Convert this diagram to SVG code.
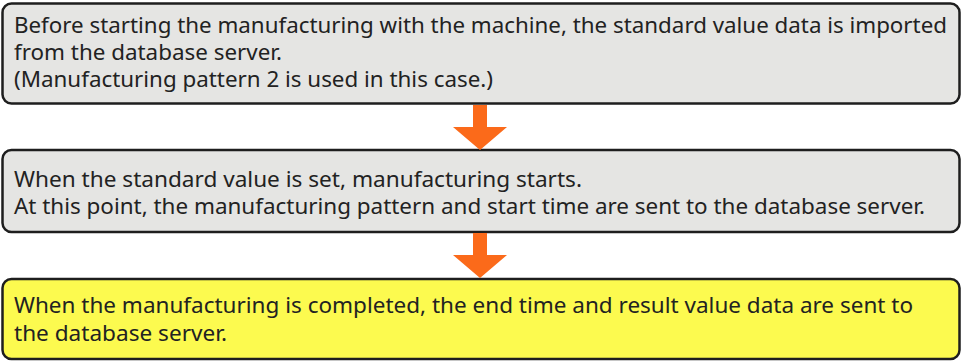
<svg xmlns="http://www.w3.org/2000/svg" width="963" height="362" viewBox="0 0 963 362">
<style>
.box{stroke:#1e1e1e;stroke-width:2.5}
.gray{fill:#e5e5e3}
.yellow{fill:#fcfa4f}
.t{font-family:"Noto Sans","Open Sans",sans-serif;font-size:21px;fill:#222222}
.arrow{fill:#fb6a1a}
</style>
<rect width="963" height="362" fill="#ffffff"/>
<g id="step1">
<rect class="box gray" x="2.5" y="3.5" width="957" height="100" rx="9"/>
<text class="t" x="14" y="33" textLength="933" lengthAdjust="spacingAndGlyphs">Before starting the manufacturing with the machine, the standard value data is imported</text>
<text class="t" x="14" y="60" textLength="268" lengthAdjust="spacingAndGlyphs">from the database server.</text>
<text class="t" x="14" y="87" textLength="479" lengthAdjust="spacingAndGlyphs">(Manufacturing pattern 2 is used in this case.)</text>
</g>
<g id="step2">
<rect class="box gray" x="2.5" y="150" width="957" height="82" rx="9"/>
<text class="t" x="14" y="187" textLength="568" lengthAdjust="spacingAndGlyphs">When the standard value is set, manufacturing starts.</text>
<text class="t" x="14" y="214" textLength="911" lengthAdjust="spacingAndGlyphs">At this point, the manufacturing pattern and start time are sent to the database server.</text>
</g>
<g id="step3">
<rect class="box yellow" x="2.5" y="279" width="957" height="80" rx="9"/>
<text class="t" x="14" y="313" textLength="899" lengthAdjust="spacingAndGlyphs">When the manufacturing is completed, the end time and result value data are sent to</text>
<text class="t" x="14" y="341" textLength="213" lengthAdjust="spacingAndGlyphs">the database server.</text>
</g>
<g id="connectors">
<polygon class="arrow" points="473,105 487,105 487,127 507,127 480,150 453,127 473,127"/>
<polygon class="arrow" points="473,233 487,233 487,255 507,255 480,278 453,255 473,255"/>
</g>
</svg>
